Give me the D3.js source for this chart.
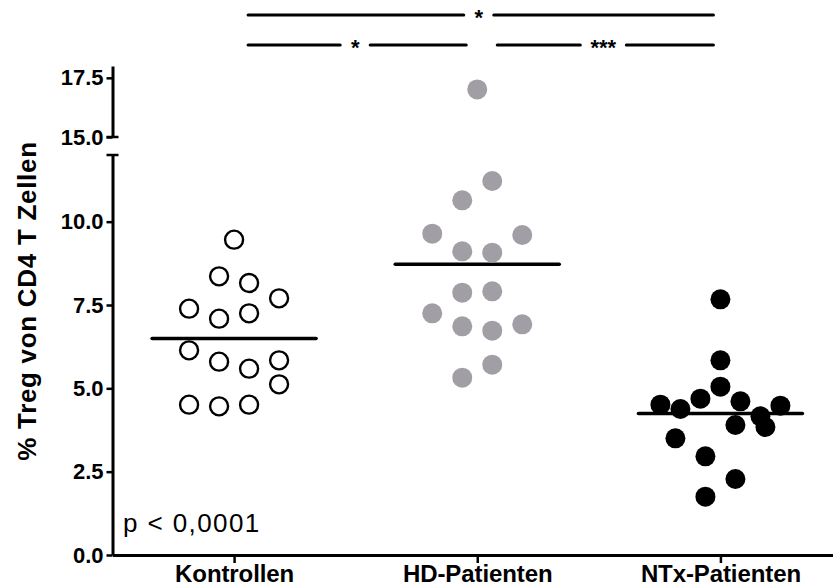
<!DOCTYPE html>
<html>
<head>
<meta charset="utf-8">
<script src="https://cdn.jsdelivr.net/npm/d3@7"></script>
<style>
  html, body { margin: 0; padding: 0; background: #fff; }
  svg { display: block; font-family: "Liberation Sans", Arial, sans-serif; }
</style>
</head>
<body>
<svg id="chart" width="833" height="588"></svg>
<script>
const categories = ["Kontrollen", "HD-Patienten", "NTx-Patienten"];

// values per group, listed row by row (top to bottom, left to right)
const kontrollen = [9.46, 8.36, 8.16, 7.39, 7.09, 7.25, 7.70, 6.14, 5.80, 5.59, 5.84, 4.51, 4.46, 4.51, 5.12];
const hdPatienten = [17.01, 10.64, 11.22, 9.64, 9.11, 9.07, 9.60, 7.87, 7.91, 7.25, 6.86, 6.73, 6.92, 5.32, 5.71];
const ntxPatienten = [7.67, 5.84, 4.51, 4.38, 4.69, 5.05, 4.61, 4.16, 4.48, 3.50, 2.96, 3.90, 3.84, 1.75, 2.28];

const lowerTicks = [0, 2.5, 5, 7.5, 10];
const upperTicks = [15, 17.5];

const comparisons = [
    { from: "Kontrollen", to: "NTx-Patienten", label: "*", row: 0 },
    { from: "Kontrollen", to: "HD-Patienten", label: "*", row: 1 },
    { from: "HD-Patienten", to: "NTx-Patienten", label: "***", row: 1 }
];
const pText = "p < 0,0001";
const yTitle = "% Treg von CD4 T Zellen";

const groups = [
    { name: categories[0], values: kontrollen, fill: "#fff", stroke: "#000" },
    { name: categories[1], values: hdPatienten, fill: "#a19fa5", stroke: "none" },
    { name: categories[2], values: ntxPatienten, fill: "#000", stroke: "none" }
];

const svg = d3.select("#chart");
const axisX = 112.5;
const baseY = 555;

const x = d3.scalePoint().domain(categories).range([axisX, 842]).padding(0.5);
const yLow = d3.scaleLinear().domain([0, 12]).range([baseY, 155]);
const yHigh = d3.scaleLinear().domain([15, 18]).range([137, 66]);
const y = v => v >= 15 ? yHigh(v) : yLow(v);

// y axis, two segments
const gLow = svg.append("g")
    .attr("transform", `translate(${axisX},0)`)
    .call(d3.axisLeft(yLow).tickValues(lowerTicks).tickFormat(d3.format(".1f")).tickSize(6).tickSizeOuter(0).tickPadding(3))
const gHigh = svg.append("g")
    .attr("transform", `translate(${axisX},0)`)
    .call(d3.axisLeft(yHigh).tickValues(upperTicks).tickFormat(d3.format(".1f")).tickSize(6).tickSizeOuter(0).tickPadding(3))

for (const g of [gLow, gHigh]) {
    g.selectAll(".domain").attr("stroke-width", 3)
    g.selectAll(".tick line").attr("stroke-width", 2.5)
    g.selectAll(".tick text")
        .attr("font-family", "Liberation Sans, Arial, sans-serif")
        .attr("font-weight", "bold")
        .attr("font-size", 22)
        .attr("fill", "#000")
}

// break caps
svg.append("line")
    .attr("x1", axisX - 6).attr("x2", axisX + 6)
    .attr("y1", yLow(12)).attr("y2", yLow(12))
    .attr("stroke", "#000").attr("stroke-width", 2.5)
svg.append("line")
    .attr("x1", axisX - 6).attr("x2", axisX + 6)
    .attr("y1", yHigh(15)).attr("y2", yHigh(15))
    .attr("stroke", "#000").attr("stroke-width", 2.5)

// x axis
const gX = svg.append("g")
    .attr("transform", `translate(0,${baseY})`)
    .call(d3.axisBottom(x).tickSize(8).tickSizeOuter(0).tickPadding(2))
gX.selectAll(".domain").attr("stroke-width", 3)
gX.selectAll(".tick line").attr("stroke-width", 2.5)
gX.selectAll(".tick text")
    .attr("font-family", "Liberation Sans, Arial, sans-serif")
    .attr("font-weight", "bold")
    .attr("font-size", 24)
    .attr("letter-spacing", -0.1)
    .attr("fill", "#000")

// y title
svg.append("text")
    .attr("transform", `translate(36,301) rotate(-90)`)
    .attr("text-anchor", "middle")
    .attr("font-weight", "bold")
    .attr("font-size", 26)
    .attr("letter-spacing", 0.7)
    .text(yTitle)

// p value
svg.append("text")
    .attr("x", 123).attr("y", 532)
    .attr("font-size", 26)
    .attr("letter-spacing", 1.4)
    .text(pText)

// scatter layout: bin values into rows, spread each row around the group centre
const binWidth = 1.27, binStart = 5.22, radius = 10;
function layout(values) {
    const bins = d3.group(values.map((v, i) => ({ v, i })), d => Math.floor((d.v - binStart) / binWidth));
    const out = [];
    for (const row of bins.values()) {
        const n = row.length;
        const step = n > 1 ? Math.min(30, 120 / (n - 1)) : 0;
        row.forEach((d, k) => out.push({ v: d.v, dx: (k - (n - 1) / 2) * step }));
    }
    return out;
}

groups.forEach(grp => {
    const cx = x(grp.name);
    const mean = d3.mean(grp.values);
    svg.append("line")
        .attr("x1", cx - 82).attr("x2", cx + 82)
        .attr("y1", y(mean)).attr("y2", y(mean))
        .attr("stroke", "#000").attr("stroke-width", 3.5)
        .attr("stroke-linecap", "round")

    svg.append("g").selectAll("circle")
        .data(layout(grp.values))
        .join("circle")
        .attr("cx", d => cx + d.dx)
        .attr("cy", d => y(d.v))
        .attr("r", grp.stroke === "none" ? radius : radius - 1)
        .attr("fill", grp.fill)
        .attr("stroke", grp.stroke)
        .attr("stroke-width", 2.4)
})

// significance brackets
const rowY = [15, 45];
comparisons.forEach(c => {
    const first = categories.indexOf(c.from) === 0;
    const last = categories.indexOf(c.to) === categories.length - 1;
    const x1 = x(c.from) + (first ? 14 : 20);
    const x2 = x(c.to) - (last ? 7 : 11);
    const mid = (x1 + x2) / 2 - 2;
    const gap = c.label.length > 1 ? 23 : 15;
    const yy = rowY[c.row];
    svg.append("line")
        .attr("x1", x1).attr("x2", mid - gap).attr("y1", yy).attr("y2", yy)
        .attr("stroke", "#000").attr("stroke-width", 3).attr("stroke-linecap", "round")
    svg.append("line")
        .attr("x1", mid + gap).attr("x2", x2).attr("y1", yy).attr("y2", yy)
        .attr("stroke", "#000").attr("stroke-width", 3).attr("stroke-linecap", "round")
    svg.append("text")
        .attr("x", mid).attr("y", yy + 10)
        .attr("text-anchor", "middle")
        .attr("font-weight", "bold")
        .attr("font-size", 22)
        .text(c.label)
})
</script>
</body>
</html>
